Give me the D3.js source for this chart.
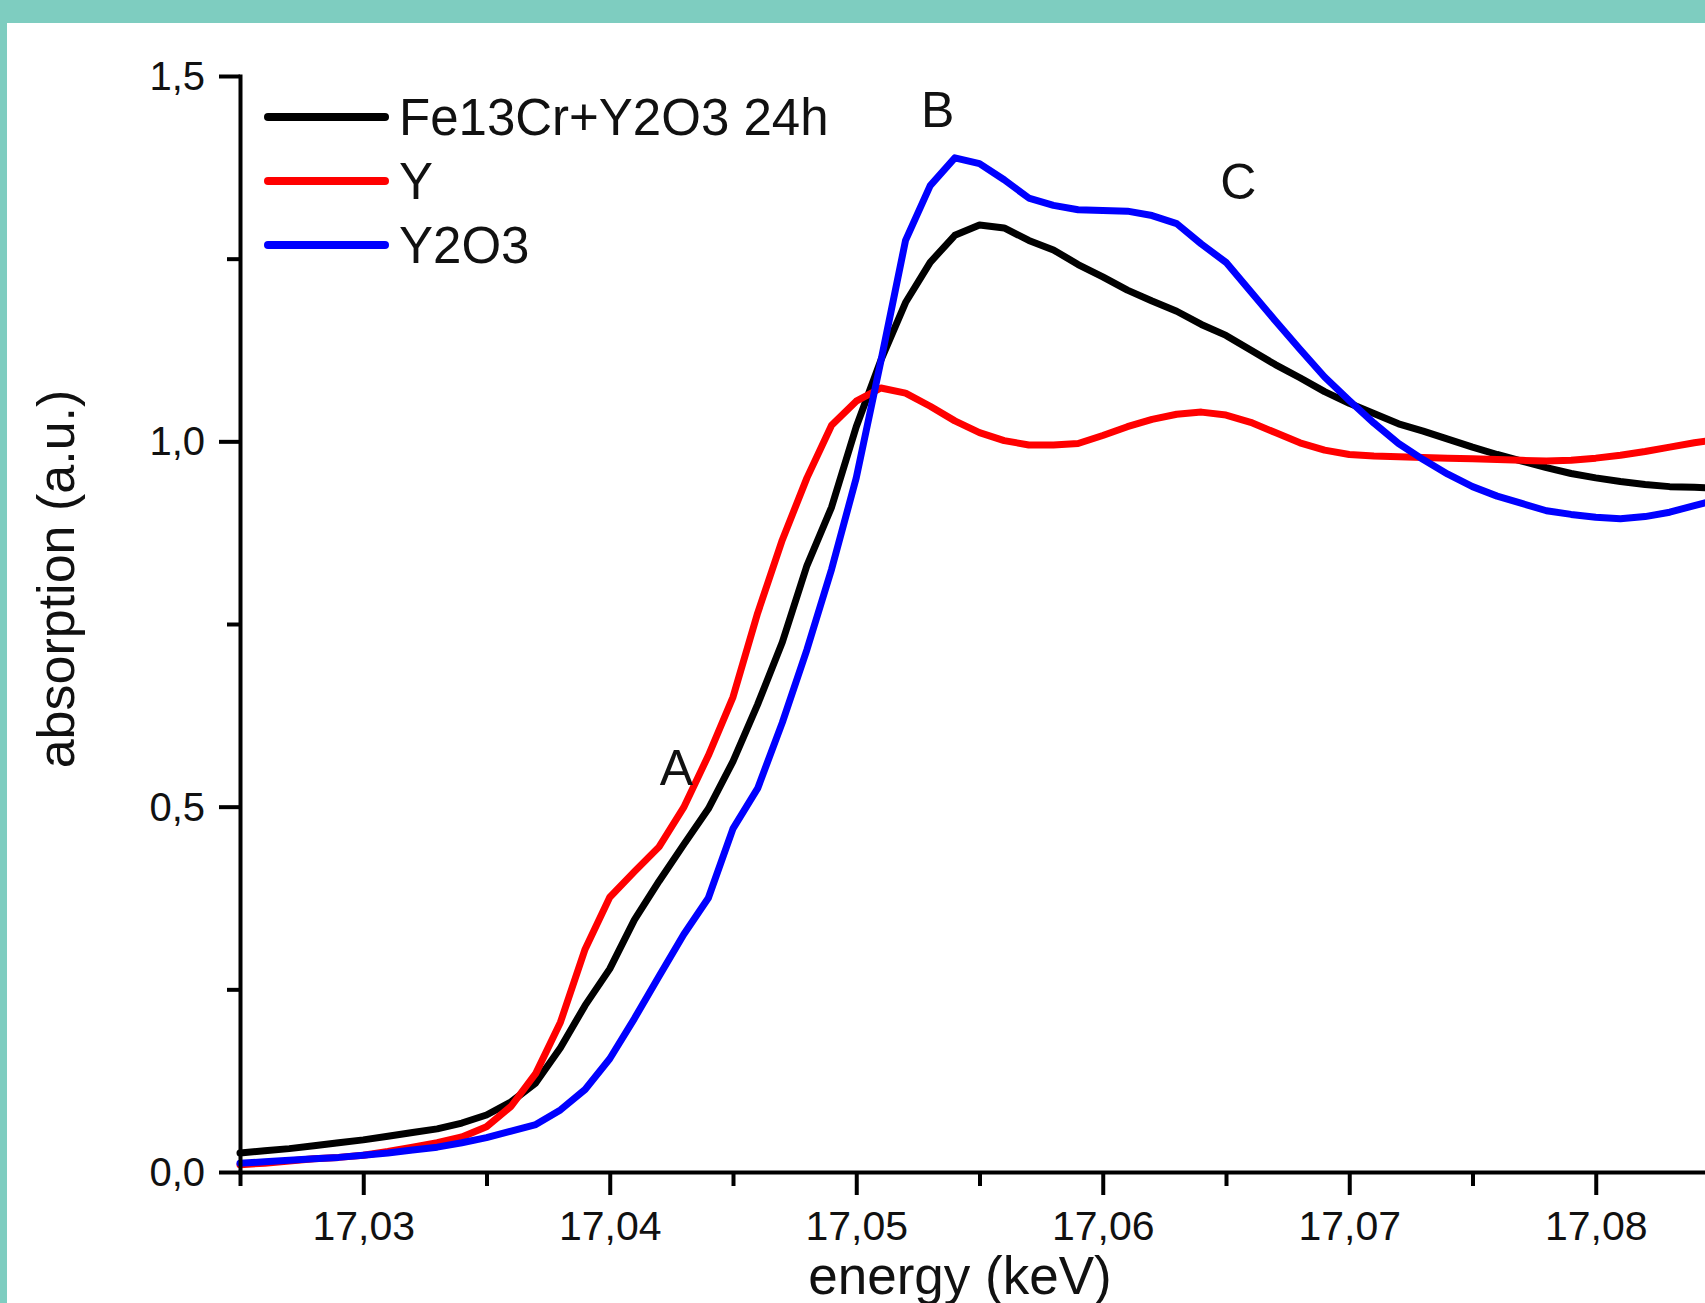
<!DOCTYPE html>
<html>
<head>
<meta charset="utf-8">
<script src="https://cdn.jsdelivr.net/npm/d3@7"></script>
<style>
  html, body { margin: 0; padding: 0; background: #ffffff; overflow: hidden; }
  svg { display: block; }
  text { font-family: "Liberation Sans", Arial, sans-serif; fill: #111; }
</style>
</head>
<body>
<svg id="chart" width="1705" height="1303"></svg>
<script>
// XANES spectra near the Y K-edge
const energy = [
  17.025, 17.026, 17.027, 17.028, 17.029, 17.030, 17.031, 17.032, 17.033, 17.034,
  17.035, 17.036, 17.037, 17.038, 17.039, 17.040, 17.041, 17.042, 17.043, 17.044,
  17.045, 17.046, 17.047, 17.048, 17.049, 17.050, 17.051, 17.052, 17.053, 17.054,
  17.055, 17.056, 17.057, 17.058, 17.059, 17.060, 17.061, 17.062, 17.063, 17.064,
  17.065, 17.066, 17.067, 17.068, 17.069, 17.070, 17.071, 17.072, 17.073, 17.074,
  17.075, 17.076, 17.077, 17.078, 17.079, 17.080, 17.081, 17.082, 17.083, 17.084,
  17.085
];

const fe13cr = [
  0.026, 0.029, 0.032, 0.036, 0.040, 0.044, 0.049, 0.054, 0.059, 0.067,
  0.078, 0.096, 0.122, 0.170, 0.228, 0.278, 0.345, 0.398, 0.448, 0.497,
  0.562, 0.640, 0.725, 0.830, 0.910, 1.020, 1.111, 1.190, 1.245, 1.282,
  1.296, 1.292, 1.275, 1.262, 1.242, 1.225, 1.207, 1.192, 1.178, 1.160,
  1.145, 1.125, 1.105, 1.087, 1.068, 1.052, 1.038, 1.024, 1.014, 1.003,
  0.992, 0.982, 0.973, 0.964, 0.956, 0.950, 0.945, 0.941, 0.938, 0.937,
  0.936
];

const yMetal = [
  0.010, 0.012, 0.015, 0.018, 0.020, 0.023, 0.028, 0.034, 0.040, 0.048,
  0.062, 0.090, 0.135, 0.205, 0.305, 0.376, 0.411, 0.445, 0.499, 0.570,
  0.650, 0.765, 0.865, 0.950, 1.022, 1.055, 1.073, 1.066, 1.048, 1.028,
  1.012, 1.001, 0.995, 0.995, 0.997, 1.008, 1.020, 1.030, 1.037, 1.040,
  1.036, 1.026, 1.012, 0.998, 0.988, 0.982, 0.980, 0.979, 0.978, 0.977,
  0.976, 0.975, 0.974, 0.973, 0.974, 0.977, 0.981, 0.986, 0.992, 0.998,
  1.003
];

const y2o3 = [
  0.012, 0.014, 0.016, 0.018, 0.020, 0.023, 0.026, 0.030, 0.034, 0.040,
  0.047, 0.056, 0.065, 0.085, 0.113, 0.155, 0.210, 0.268, 0.325, 0.375,
  0.470, 0.525, 0.615, 0.715, 0.825, 0.950, 1.110, 1.275, 1.350, 1.388,
  1.380, 1.358, 1.333, 1.323, 1.317, 1.316, 1.315, 1.309, 1.298, 1.270,
  1.245, 1.205, 1.165, 1.126, 1.088, 1.056, 1.025, 0.997, 0.975, 0.955,
  0.938, 0.925, 0.915, 0.905, 0.900, 0.896, 0.894, 0.897, 0.903, 0.912,
  0.921
];

const seriesNames = ["Fe13Cr+Y2O3 24h", "Y", "Y2O3"];
const seriesColors = ["#000000", "#ff0000", "#0000ff"];
const seriesValues = [fe13cr, yMetal, y2o3];

const xMajorTicks = [17.03, 17.04, 17.05, 17.06, 17.07, 17.08];
const xMinorTicks = [17.025, 17.035, 17.045, 17.055, 17.065, 17.075, 17.085];
const yMajorTicks = [0, 0.5, 1.0, 1.5];
const yMinorTicks = [0.25, 0.75, 1.25];

const peakLabels = ["A", "B", "C"];
const peakEnergy = [17.0427, 17.0533, 17.0655];
const peakLevel = [0.530, 1.430, 1.332];

// layout
const svg = d3.select("#chart");
const W = 1705, H = 1303;
const frame = { top: 23, left: 7 };

svg.append("rect").attr("x", 0).attr("y", 0).attr("width", W).attr("height", H)
  .attr("fill", "#7ecdc0");
svg.append("rect").attr("x", frame.left).attr("y", frame.top)
  .attr("width", W - frame.left).attr("height", H - frame.top).attr("fill", "#ffffff");

const x = d3.scaleLinear().domain([17.025, 17.09]).range([240, 240 + 6.5 * 246.5]);
const y = d3.scaleLinear().domain([0, 1.5]).range([1172, 76]);

const comma = f => v => d3.format(f)(v).replace(".", ",");

// curves
const line = d3.line()
  .x((d, i) => x(energy[i]))
  .y(d => y(d))
  .curve(d3.curveLinear);

const plot = svg.append("g");
seriesValues.forEach((vals, k) => {
  plot.append("path")
    .datum(vals)
    .attr("d", line)
    .attr("fill", "none")
    .attr("stroke", seriesColors[k])
    .attr("stroke-width", 7)
    .attr("stroke-linejoin", "round")
    .attr("stroke-linecap", "round");
});

// x axis
const gx = svg.append("g").attr("transform", `translate(0,${y(0)})`);
gx.call(d3.axisBottom(x).tickValues(xMajorTicks).tickSize(23).tickSizeOuter(0)
  .tickPadding(16).tickFormat(comma(".2f")));
const gxMinor = svg.append("g").attr("transform", `translate(0,${y(0)})`);
gxMinor.call(d3.axisBottom(x).tickValues(xMinorTicks).tickSize(14).tickSizeOuter(0)
  .tickFormat(""));
gxMinor.select(".domain").remove();

// y axis
const gy = svg.append("g").attr("transform", `translate(${x(17.025)},0)`);
gy.call(d3.axisLeft(y).tickValues(yMajorTicks).tickSize(21).tickSizeOuter(0)
  .tickPadding(14).tickFormat(comma(".1f")));
const gyMinor = svg.append("g").attr("transform", `translate(${x(17.025)},0)`);
gyMinor.call(d3.axisLeft(y).tickValues(yMinorTicks).tickSize(13).tickSizeOuter(0)
  .tickFormat(""));
gyMinor.select(".domain").remove();

svg.selectAll(".domain").attr("stroke", "#000").attr("stroke-width", 4)
  .attr("stroke-linecap", "square");
svg.selectAll(".tick line").attr("stroke", "#000").attr("stroke-width", 4);

gx.selectAll(".tick text")
  .attr("font-family", "'Liberation Sans', Arial, sans-serif")
  .attr("font-size", 41).attr("fill", "#111").attr("dy", "0.71em");
gy.selectAll(".tick text")
  .attr("font-family", "'Liberation Sans', Arial, sans-serif")
  .attr("font-size", 40).attr("fill", "#111").attr("dy", "0.34em");

// axis titles
svg.append("text")
  .attr("x", 960).attr("y", 1294)
  .attr("text-anchor", "middle")
  .attr("font-size", 53)
  .text("energy (keV)");

svg.append("text")
  .attr("transform", `translate(74,579) rotate(-90)`)
  .attr("text-anchor", "middle")
  .attr("font-size", 52)
  .text("absorption (a.u.)");

// legend
const legend = svg.append("g");
const legendRows = [135, 199, 263];
seriesNames.forEach((name, k) => {
  const by = legendRows[k];
  legend.append("line")
    .attr("x1", 268).attr("x2", 385)
    .attr("y1", by - 18).attr("y2", by - 18)
    .attr("stroke", seriesColors[k])
    .attr("stroke-width", 8)
    .attr("stroke-linecap", "round");
  legend.append("text")
    .attr("x", 399).attr("y", by)
    .attr("font-size", 51)
    .text(name);
});

// feature labels
peakLabels.forEach((lab, k) => {
  svg.append("text")
    .attr("x", x(peakEnergy[k])).attr("y", y(peakLevel[k]))
    .attr("text-anchor", "middle")
    .attr("font-size", 50)
    .text(lab);
});
</script>
</body>
</html>
